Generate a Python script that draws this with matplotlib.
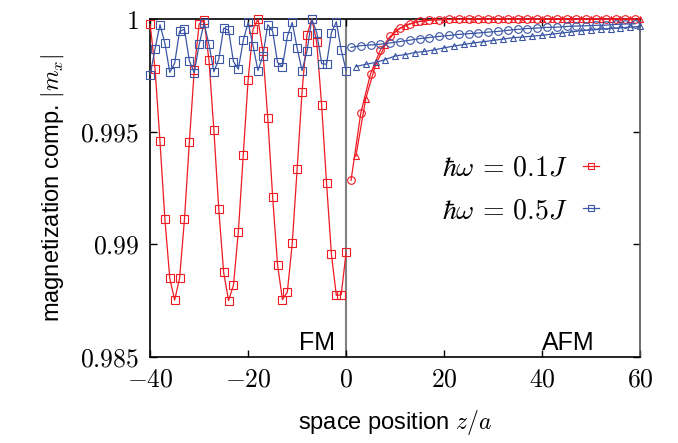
import numpy as np
import matplotlib
matplotlib.use('Agg')
from matplotlib import pyplot as plt

plt.rcParams['mathtext.fontset'] = 'cm'
plt.rcParams['font.family'] = ['Liberation Sans', 'DejaVu Sans']

# FM side: every site from z=-40 to z=0
z_fm = np.arange(-40, 1)
red_fm = [0.99976, 0.99777, 0.99457, 0.99112, 0.98848, 0.98751, 0.98848, 0.99110, 0.99454, 0.99774,
          0.99978, 0.99997, 0.99817, 0.99508, 0.99156, 0.98874, 0.98749, 0.98817, 0.99055, 0.99396,
          0.99731, 0.99955, 1.00000, 0.99859, 0.99561, 0.99210, 0.98909, 0.98753, 0.98787, 0.99003,
          0.99333, 0.99675, 0.99929, 1.00000, 0.99896, 0.99619, 0.99272, 0.98955, 0.98772, 0.98775,
          0.98964]
blue_fm = [0.99753, 0.99869, 0.99975, 0.99893, 0.99763, 0.99804, 0.99946, 0.99954, 0.99814, 0.99762,
           0.99887, 0.99982, 0.99887, 0.99766, 0.99821, 0.99960, 0.99951, 0.99811, 0.99777, 0.99905,
           0.99985, 0.99881, 0.99771, 0.99836, 0.99975, 0.99946, 0.99807, 0.99789, 0.99923, 0.99985,
           0.99871, 0.99771, 0.99856, 1.00000, 0.99940, 0.99802, 0.99799, 0.99940, 0.99988, 0.99862,
           0.99771]

# AFM side: odd sites (circles) and even sites (triangles)
z_odd = np.arange(1, 60, 2)
z_even = np.arange(2, 61, 2)
red_odd = [0.99283, 0.99583, 0.99758, 0.99863, 0.99923, 0.99960, 0.99979, 0.99990, 0.99995, 0.99997,
           0.99998, 0.99999, 0.99999, 1.0, 1.0, 1.0, 1.0, 1.0, 1.0, 1.0,
           1.0, 1.0, 1.0, 1.0, 1.0, 1.0, 1.0, 1.0, 1.0, 1.0]
red_even = [0.99391, 0.99646, 0.99796, 0.99885, 0.99945, 0.99970, 0.99985, 0.99993, 0.99997, 0.99998,
            0.99999, 0.99999, 1.0, 1.0, 1.0, 1.0, 1.0, 1.0, 1.0, 1.0,
            1.0, 1.0, 1.0, 1.0, 1.0, 1.0, 1.0, 1.0, 1.0, 1.0]
blue_odd = [0.99874, 0.99882, 0.99885, 0.99888, 0.99894, 0.99900, 0.99906, 0.99913, 0.99918, 0.99923,
            0.99927, 0.99932, 0.99935, 0.99938, 0.99942, 0.99945, 0.99950, 0.99954, 0.99958, 0.99960,
            0.99963, 0.99964, 0.99967, 0.99969, 0.99970, 0.99972, 0.99973, 0.99976, 0.99978, 0.99979]
blue_even = [0.99789, 0.99799, 0.99807, 0.99820, 0.99836, 0.99842, 0.99851, 0.99856, 0.99863, 0.99872,
             0.99880, 0.99887, 0.99894, 0.99899, 0.99905, 0.99911, 0.99917, 0.99920, 0.99924, 0.99928,
             0.99933, 0.99938, 0.99943, 0.99948, 0.99951, 0.99955, 0.99958, 0.99961, 0.99964, 0.99967]

x_ticks = [-40, -20, 0, 20, 40, 60]
y_ticks = [0.985, 0.99, 0.995, 1]
y_tick_labels = ['0.985', '0.99', '0.995', '1']

red = '#f01a22'
blue = '#3a56a5'

fig = plt.figure(figsize=(6.78, 4.43), dpi=100)
ax = fig.add_axes([0.2215, 0.195, 0.7225, 0.762])

ax.axvline(0, color='#808080', lw=1.5, zorder=1)

mk = dict(mfc='none', mew=0.8, lw=0.9, clip_on=False, zorder=3)
ax.plot(z_fm, red_fm, '-s', color=red, ms=5.5, label=r'$\hbar\omega\, =\, 0.1J$', **mk)
ax.plot(z_fm, blue_fm, '-s', color=blue, ms=5.5, label=r'$\hbar\omega\, =\, 0.5J$', **mk)
ax.plot(z_odd, red_odd, '-o', color=red, ms=5.5, **mk)
ax.plot(z_even, red_even, '-^', color=red, ms=5, **mk)
ax.plot(z_odd, blue_odd, '-o', color=blue, ms=5.5, **mk)
ax.plot(z_even, blue_even, '-^', color=blue, ms=5, **mk)

ax.set_xlim(-40, 60)
ax.set_ylim(0.985, 1.0)
ax.set_xticks(x_ticks)
ax.set_xticklabels(['$%d$' % t for t in x_ticks])
ax.set_yticks(y_ticks)
ax.set_yticklabels(['$%s$' % t for t in y_tick_labels])
ax.tick_params(direction='in', top=True, right=True, length=5, width=1, labelsize=18.5, pad=8)
for s in ax.spines.values():
    s.set_linewidth(1.2)
ax.spines['right'].set_color('#555555')

ax.set_xlabel('space position $z/a$', fontsize=17, labelpad=12)
ax.set_ylabel('magnetization comp. $|m_x|$', fontsize=17, labelpad=10)

ax.text(-6, 0.98505, 'FM', fontsize=18, ha='center', va='bottom')
ax.text(45.3, 0.98505, 'AFM', fontsize=18, ha='center', va='bottom')

leg = ax.legend(loc='upper right', bbox_to_anchor=(0.968, 0.67), frameon=False, markerfirst=False,
                fontsize=20, handlelength=0.6, handletextpad=0.55, labelspacing=0.6)
for lh in leg.get_lines():
    lh.set_markersize(4)

plt.savefig('out.png', dpi=100)
